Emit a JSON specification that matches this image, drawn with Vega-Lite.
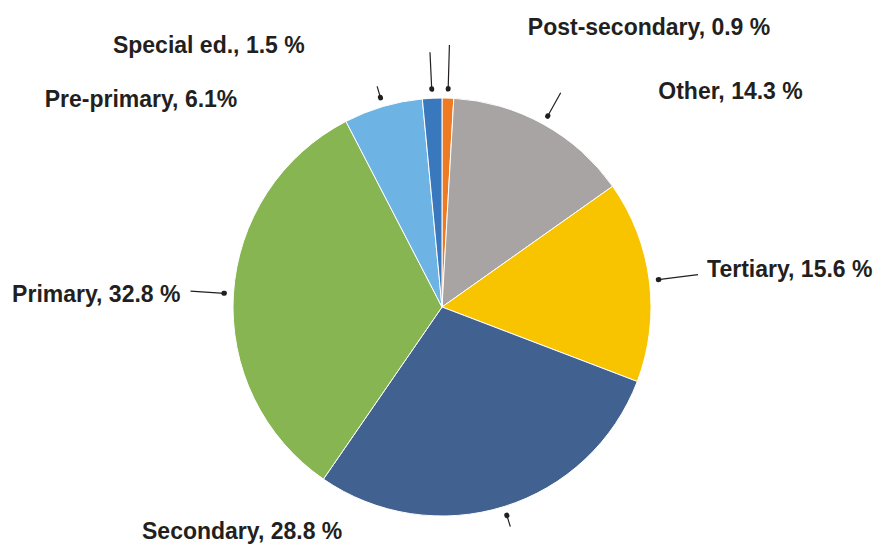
{
  "$schema": "https://vega.github.io/schema/vega-lite/v6.json",
  "width": 872,
  "height": 478,
  "padding": {"left": 6, "top": 68, "right": 0, "bottom": 0},
  "autosize": {"type": "none"},
  "background": "white",
  "config": {"view": {"stroke": null}},
  "data": {
    "values": [
      {"category": "Post-secondary", "share": 0.9, "rank": 1, "label": "Post-secondary, 0.9 %"},
      {"category": "Other", "share": 14.3, "rank": 2, "label": "Other, 14.3 %"},
      {"category": "Tertiary", "share": 15.6, "rank": 3, "label": "Tertiary, 15.6 %"},
      {"category": "Secondary", "share": 28.8, "rank": 4, "label": "Secondary, 28.8 %"},
      {"category": "Primary", "share": 32.8, "rank": 5, "label": "Primary, 32.8 %"},
      {"category": "Pre-primary", "share": 6.1, "rank": 6, "label": "Pre-primary, 6.1%"},
      {"category": "Special ed.", "share": 1.5, "rank": 7, "label": "Special ed., 1.5 %"}
    ]
  },
  "encoding": {
    "theta": {"field": "share", "type": "quantitative", "stack": true},
    "order": {"field": "rank", "type": "quantitative"}
  },
  "layer": [
    {
      "mark": {"type": "arc", "outerRadius": 209, "stroke": "white", "strokeWidth": 1},
      "encoding": {
        "color": {
          "field": "category",
          "type": "nominal",
          "legend": null,
          "scale": {
            "domain": ["Post-secondary", "Other", "Tertiary", "Secondary", "Primary", "Pre-primary", "Special ed."],
            "range": ["#EE7B22", "#A7A4A3", "#F8C400", "#416190", "#86B552", "#6DB3E3", "#3A78BE"]
          }
        }
      }
    },
    {
      "mark": {"type": "arc", "padAngle": 3.1, "innerRadius": 218, "outerRadius": 262, "fill": "white", "fillOpacity": 0, "stroke": "#231f20", "strokeWidth": 1.2},
      "encoding": {"strokeOpacity": {"condition": {"test": "datum.category === 'Post-secondary'", "value": 1}, "value": 0}}
    },
    {
      "mark": {"type": "arc", "padAngle": 3.1, "innerRadius": 218, "outerRadius": 255, "fill": "white", "fillOpacity": 0, "stroke": "#231f20", "strokeWidth": 1.2},
      "encoding": {"strokeOpacity": {"condition": {"test": "datum.category === 'Special ed.'", "value": 1}, "value": 0}}
    },
    {
      "mark": {"type": "arc", "padAngle": 3.1, "innerRadius": 218, "outerRadius": 245, "fill": "white", "fillOpacity": 0, "stroke": "#231f20", "strokeWidth": 1.2},
      "encoding": {"strokeOpacity": {"condition": {"test": "datum.category === 'Other'", "value": 1}, "value": 0}}
    },
    {
      "mark": {"type": "arc", "padAngle": 3.1, "innerRadius": 218, "outerRadius": 258, "fill": "white", "fillOpacity": 0, "stroke": "#231f20", "strokeWidth": 1.2},
      "encoding": {"strokeOpacity": {"condition": {"test": "datum.category === 'Tertiary'", "value": 1}, "value": 0}}
    },
    {
      "mark": {"type": "arc", "padAngle": 3.1, "innerRadius": 218, "outerRadius": 252, "fill": "white", "fillOpacity": 0, "stroke": "#231f20", "strokeWidth": 1.2},
      "encoding": {"strokeOpacity": {"condition": {"test": "datum.category === 'Primary'", "value": 1}, "value": 0}}
    },
    {
      "mark": {"type": "arc", "padAngle": 3.1, "innerRadius": 218, "outerRadius": 230, "fill": "white", "fillOpacity": 0, "stroke": "#231f20", "strokeWidth": 1.2},
      "encoding": {"strokeOpacity": {"condition": {"test": "datum.category === 'Pre-primary' || datum.category === 'Secondary'", "value": 1}, "value": 0}}
    },
    {
      "mark": {"type": "arc", "padAngle": 3.1, "innerRadius": 218, "outerRadius": 218.6, "fill": "white", "fillOpacity": 0, "stroke": "#231f20", "strokeWidth": 5, "strokeJoin": "round", "strokeCap": "round"}
    },
    {
      "mark": {"type": "text", "radius": 240, "dx": 79, "dy": -39, "align": "left", "baseline": "middle", "font": "Liberation Sans, Arial, sans-serif", "fontWeight": "bold", "fontSize": 23, "fill": "#231f20"},
      "encoding": {"text": {"condition": {"test": "datum.category === 'Post-secondary'", "field": "label", "type": "nominal"}, "value": ""}}
    },
    {
      "mark": {"type": "text", "radius": 240, "dx": 100, "dy": -5, "align": "left", "baseline": "middle", "font": "Liberation Sans, Arial, sans-serif", "fontWeight": "bold", "fontSize": 23, "fill": "#231f20"},
      "encoding": {"text": {"condition": {"test": "datum.category === 'Other'", "field": "label", "type": "nominal"}, "value": ""}}
    },
    {
      "mark": {"type": "text", "radius": 240, "dx": 27, "dy": -7, "align": "left", "baseline": "middle", "font": "Liberation Sans, Arial, sans-serif", "fontWeight": "bold", "fontSize": 23, "fill": "#231f20"},
      "encoding": {"text": {"condition": {"test": "datum.category === 'Tertiary'", "field": "label", "type": "nominal"}, "value": ""}}
    },
    {
      "mark": {"type": "text", "radius": 240, "dx": -171, "dy": -4, "align": "right", "baseline": "middle", "font": "Liberation Sans, Arial, sans-serif", "fontWeight": "bold", "fontSize": 23, "fill": "#231f20"},
      "encoding": {"text": {"condition": {"test": "datum.category === 'Secondary'", "field": "label", "type": "nominal"}, "value": ""}}
    },
    {
      "mark": {"type": "text", "radius": 240, "dx": -22, "dy": 3, "align": "right", "baseline": "middle", "font": "Liberation Sans, Arial, sans-serif", "fontWeight": "bold", "fontSize": 23, "fill": "#231f20"},
      "encoding": {"text": {"condition": {"test": "datum.category === 'Primary'", "field": "label", "type": "nominal"}, "value": ""}}
    },
    {
      "mark": {"type": "text", "radius": 240, "dx": -137, "dy": 23, "align": "right", "baseline": "middle", "font": "Liberation Sans, Arial, sans-serif", "fontWeight": "bold", "fontSize": 23, "fill": "#231f20"},
      "encoding": {"text": {"condition": {"test": "datum.category === 'Pre-primary'", "field": "label", "type": "nominal"}, "value": ""}}
    },
    {
      "mark": {"type": "text", "radius": 240, "dx": -126, "dy": -21, "align": "right", "baseline": "middle", "font": "Liberation Sans, Arial, sans-serif", "fontWeight": "bold", "fontSize": 23, "fill": "#231f20"},
      "encoding": {"text": {"condition": {"test": "datum.category === 'Special ed.'", "field": "label", "type": "nominal"}, "value": ""}}
    }
  ]
}
